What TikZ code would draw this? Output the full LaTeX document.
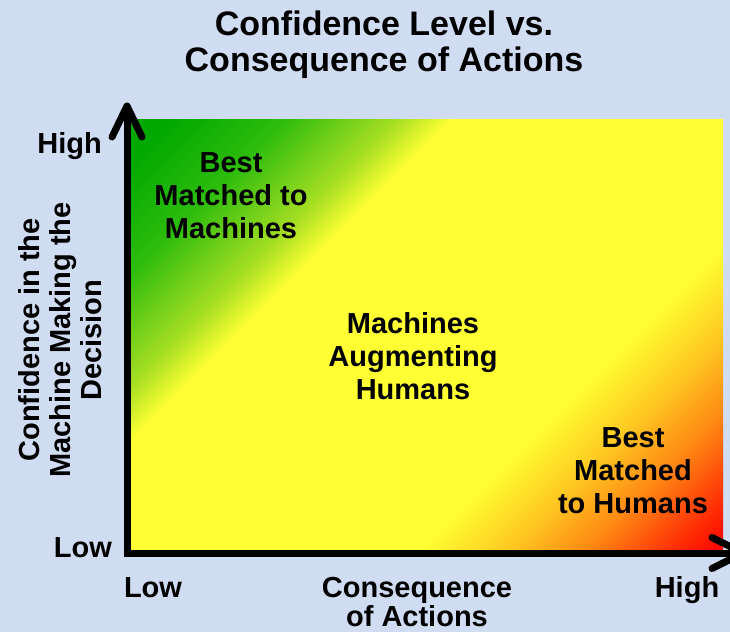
\documentclass[tikz,border=0pt]{standalone}
\usepackage{fontspec}
\usetikzlibrary{calc}
\setmainfont{Liberation Sans}
\definecolor{bg}{RGB}{208,220,242}
\definecolor{gA}{RGB}{0,168,0}
\definecolor{gB}{RGB}{45,188,12}
\definecolor{gC}{RGB}{165,222,35}
\definecolor{yel}{RGB}{255,255,51}
\definecolor{orA}{RGB}{255,205,35}
\definecolor{orB}{RGB}{255,140,20}
\definecolor{rdA}{RGB}{255,45,5}
\definecolor{rdB}{RGB}{255,0,0}
\pgfdeclarehorizontalshading{quad}{100bp}{color(0bp)=(gA); color(17.1bp)=(gA); color(23.8bp)=(gB); color(30.5bp)=(gC); color(33.9bp)=(yel); color(57.5bp)=(yel); color(62.4bp)=(orA); color(67.3bp)=(orB); color(72.8bp)=(rdA); color(75.8bp)=(rdB); color(100bp)=(rdB)}
\newcommand{\lines}[1]{\begin{tabular}[t]{@{}c@{}}#1\end{tabular}}
\begin{document}
\begin{tikzpicture}[x=1pt,y=-1pt,
  lbl/.style={font=\fontsize{29}{33}\selectfont\bfseries, inner sep=0pt, anchor=base},
  ttl/.style={font=\fontsize{34}{36}\selectfont\bfseries, inner sep=0pt, anchor=base},
  axisline/.style={line width=7pt, line join=miter},
  wing/.style={line width=7pt, line cap=round, line join=round}]
\useasboundingbox (0,0) rectangle (730,632);
\fill[bg] (0,0) rectangle (730,632);
% gradient field
\begin{scope}
  \clip (127,119) rectangle (723,553);
  \shade[shading=quad, shading angle=-45] (127,119) rectangle (723,715);
\end{scope}
% axes
\coordinate (origin) at (127,553);
\coordinate (ytip) at (127,106);
\coordinate (xtip) at (743,553);
\draw[axisline] (ytip) -- (origin) -- (xtip);
\draw[wing] ($(ytip)+(-15,31)$) -- (ytip) -- ($(ytip)+(15,31)$);
\draw[wing] ($(xtip)+(-31,-15.5)$) -- (xtip) -- ($(xtip)+(-31,15.5)$);
% title
\node[ttl] (title) at (384,35) {\lines{Confidence Level vs.\\Consequence of Actions}};
% region labels
\node[lbl] (tl) at (231,172) {\lines{Best\\Matched to\\Machines}};
\node[lbl] (mid) at (413,333) {\lines{Machines\\Augmenting\\Humans}};
\node[lbl] (br) at (633,447) {\lines{Best\\Matched\\to Humans}};
% axis labels
\node[lbl, anchor=base east] (yhigh) at (102,153) {High};
\node[lbl, anchor=base east] (ylow) at (112,557) {Low};
\node[lbl] (xlow) at (153,597) {Low};
\node[lbl] (xhigh) at (687,597) {High};
\node[lbl, font=\fontsize{29}{28}\selectfont\bfseries] (xtitle) at (417,597) {\lines{Consequence\\of Actions}};
\node[lbl, font=\fontsize{29}{31}\selectfont\bfseries, rotate=90] (ytitle) at (39,340) {\lines{Confidence in the\\Machine Making the\\Decision}};
\end{tikzpicture}
\end{document}
